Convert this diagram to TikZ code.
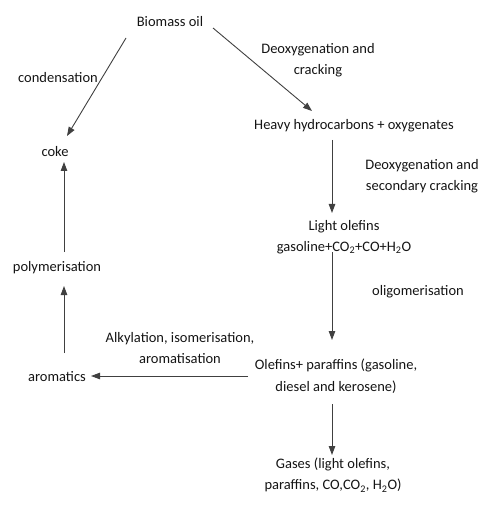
\documentclass[tikz,border=0pt]{standalone}
\usepackage{fontspec}
\setmainfont{Carlito}
\usetikzlibrary{arrows.meta}
\begin{document}
\begin{tikzpicture}[x=1pt,y=-1pt,
  lbl/.style={text=black!92, font=\fontsize{14.5}{21.5}\selectfont, align=center, inner sep=1pt},
  arr/.style={draw=black!75, line width=0.9pt, -{Triangle[length=9pt,width=6.5pt]}}]
\useasboundingbox (0,0) rectangle (482,510);
\node[lbl] (bio) at (170,22) {Biomass oil};
\node[lbl] (coke) at (55,152) {coke};
\node[lbl] (heavy) at (354,126) {Heavy hydrocarbons + oxygenates};
\node[lbl] (light) at (344,237) {Light olefins\\gasoline+CO\textsubscript{2}+CO+H\textsubscript{2}O};
\node[lbl] (olef) at (336,376) {Olefins+ paraffins (gasoline,\\diesel and kerosene)};
\node[lbl] (gas) at (333,475) {Gases (light olefins,\\paraffins, CO,CO\textsubscript{2}, H\textsubscript{2}O)};
\node[lbl] (arom) at (57,377) {aromatics};
\node[lbl] (poly) at (57,268) {polymerisation};
\node[lbl] (l1) at (58,78) {condensation};
\node[lbl] (l2) at (318,60) {Deoxygenation and\\cracking};
\node[lbl] (l3) at (422,176) {Deoxygenation and\\secondary cracking};
\node[lbl] (l4) at (418,292) {oligomerisation};
\node[lbl] (l5) at (180,348) {Alkylation, isomerisation,\\aromatisation};
\coordinate (a1s) at (126,38); \coordinate (a1e) at (67,136);
\coordinate (a2s) at (213,28); \coordinate (a2e) at (312,111);
\coordinate (a3s) at (332,140); \coordinate (a3e) at (332,213);
\coordinate (a4s) at (332,252); \coordinate (a4e) at (332,340);
\coordinate (a5s) at (332,404); \coordinate (a5e) at (332,455);
\coordinate (a6s) at (248,376); \coordinate (a6e) at (91,376);
\coordinate (a7s) at (64,353); \coordinate (a7e) at (64,286);
\coordinate (a8s) at (64,252); \coordinate (a8e) at (64,162);
\draw[arr] (a1s) -- (a1e);
\draw[arr] (a2s) -- (a2e);
\draw[arr] (a3s) -- (a3e);
\draw[arr] (a4s) -- (a4e);
\draw[arr] (a5s) -- (a5e);
\draw[arr] (a6s) -- (a6e);
\draw[arr] (a7s) -- (a7e);
\draw[arr] (a8s) -- (a8e);
\end{tikzpicture}
\end{document}
